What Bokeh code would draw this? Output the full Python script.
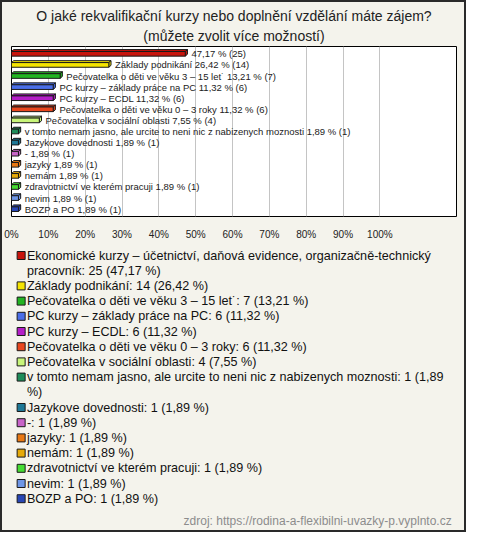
import textwrap
from bokeh.plotting import figure
from bokeh.layouts import column
from bokeh.models import Range1d, FixedTicker, Title, ColumnDataSource
from bokeh.embed import file_html
from bokeh.resources import INLINE
from bokeh.core.properties import value

# ---------------- data ----------------
names = [
    "Ekonomické kurzy – účetnictví, daňová evidence, organizačně-technický pracovník",
    "Základy podnikání",
    "Pečovatelka o děti ve věku 3 – 15 let˙",
    "PC kurzy – základy práce na PC",
    "PC kurzy – ECDL",
    "Pečovatelka o děti ve věku 0 – 3 roky",
    "Pečovatelka v sociální oblasti",
    "v tomto nemam jasno, ale urcite to neni nic z nabizenych moznosti",
    "Jazykove dovednosti",
    "-",
    "jazyky",
    "nemám",
    "zdravotnictví ve kterém pracuji",
    "nevim",
    "BOZP a PO",
]
counts = [25, 14, 7, 6, 6, 6, 4, 1, 1, 1, 1, 1, 1, 1, 1]
percents = [47.17, 26.42, 13.21, 11.32, 11.32, 11.32, 7.55,
            1.89, 1.89, 1.89, 1.89, 1.89, 1.89, 1.89, 1.89]
show_name_on_bar = [False] + [True] * 14
colors = ["#c8140c", "#f5e400", "#22b422", "#4a6ee8", "#b41ec8", "#e8461e",
          "#c8f57a", "#1e8c5a", "#1e7896", "#c864c8", "#e87814", "#e6aa0a",
          "#46dc32", "#6e96e6", "#2846b4"]
x_ticks = [0, 10, 20, 30, 40, 50, 60, 70, 80, 90, 100]
x_tick_labels = ["0%", "10%", "20%", "30%", "40%", "50%", "60%", "70%", "80%", "90%", "100%"]
title_line1 = "O jaké rekvalifikační kurzy nebo doplnění vzdělání máte zájem?"
title_line2 = "(můžete zvolit více možností)"
source_text = "zdroj: https://rodina-a-flexibilni-uvazky-p.vyplnto.cz"

# ---------------- helpers ----------------
def fmt(v):
    return f"{v:.2f}".replace(".", ",")

BG = "#f4f3ec"
FONT = "Liberation Sans"
n = len(names)
rows = list(range(n))

# ---------------- chart figure ----------------
W = 462
HA = 240
ML, MR = 9, 8
X_END = 120.8
frame_w = W - ML - MR
frame_h = 176
dx = 2.2 * X_END / frame_w        # 3D depth (x), data units
dy = 2.0 * 15.3 / frame_h         # 3D depth (y), row units
hh = 0.21                          # half height of bar front face

bar_labels = [((nm + " ") if show else "") + f"{fmt(pc)} % ({c})"
              for nm, pc, c, show in zip(names, percents, counts, show_name_on_bar)]

top_xs, top_ys, side_xs, side_ys = [], [], [], []
for i, pc in zip(rows, percents):
    top_xs.append([0, pc, pc + dx, dx])
    top_ys.append([i - hh, i - hh, i - hh - dy, i - hh - dy])
    side_xs.append([pc, pc, pc + dx, pc + dx])
    side_ys.append([i - hh, i + hh, i + hh - dy, i - hh - dy])

src = ColumnDataSource(dict(
    y=rows, right=percents, color=colors, label=bar_labels,
    top=[i - hh for i in rows], bottom=[i + hh for i in rows],
    tx=[pc + dx for pc in percents],
    top_xs=top_xs, top_ys=top_ys, side_xs=side_xs, side_ys=side_ys,
))

pa = figure(width=W, height=HA, x_range=Range1d(0, X_END), y_range=Range1d(14.66, -0.66),
            output_backend="svg", toolbar_location=None, y_axis_location=None,
            min_border_left=ML, min_border_right=MR, min_border_top=44, min_border_bottom=20,
            background_fill_color="white", border_fill_color=BG,
            outline_line_color="black", outline_line_width=1, title=None)

pa.xgrid.ticker = FixedTicker(ticks=x_ticks)
pa.xgrid.grid_line_color = "#c4c4c4"
pa.ygrid.visible = False

ax = pa.xaxis[0]
ax.ticker = FixedTicker(ticks=x_ticks)
ax.major_label_overrides = {t: l for t, l in zip(x_ticks, x_tick_labels)}
ax.axis_line_color = None
ax.major_tick_line_color = None
ax.minor_tick_line_color = None
ax.major_label_text_font = FONT
ax.major_label_text_font_size = "10px"
ax.major_label_text_color = "#222222"
ax.major_label_standoff = 6

pa.patches("top_xs", "top_ys", source=src, fill_color="color", line_color="#1a1a1a", line_width=1)
pa.patches("side_xs", "side_ys", source=src, fill_color="color", line_color="#1a1a1a", line_width=1)
pa.quad(left=0, right="right", top="top", bottom="bottom", source=src,
        fill_color="color", line_color="#1a1a1a", line_width=1)
pa.text(x="tx", y="y", text="label", source=src, x_offset=4,
        text_baseline="middle", text_align="left",
        text_font=value(FONT), text_font_size="9.5px", text_color="#222222")

pa.add_layout(Title(text=title_line2, align="center", text_font=FONT,
                    text_font_size="14px", text_font_style="normal", text_color="#222222",
                    standoff=5), "above")
pa.add_layout(Title(text=title_line1, align="center", text_font=FONT,
                    text_font_size="14px", text_font_style="normal", text_color="#222222",
                    standoff=0), "above")

# ---------------- legend figure ----------------
HB = 288
PITCH = 15.2
FIRST = 13
legend_labels = [f"{nm}: {c} ({fmt(pc)} %)" for nm, pc, c in zip(names, percents, counts)]

sq_y, sq_color, line_txt, line_y = [], [], [], []
k = 0
for lab, col in zip(legend_labels, colors):
    parts = textwrap.wrap(lab, width=74, break_on_hyphens=False)
    sq_y.append(FIRST + k * PITCH)
    sq_color.append(col)
    for part in parts:
        line_txt.append(part)
        line_y.append(FIRST + k * PITCH)
        k += 1

pb = figure(width=W, height=HB, x_range=Range1d(0, W), y_range=Range1d(HB, 0),
            output_backend="svg", toolbar_location=None,
            x_axis_location=None, y_axis_location=None,
            min_border=0, background_fill_color=BG, border_fill_color=BG,
            outline_line_color=None, title=None)
pb.grid.visible = False

pb.scatter(x=[10] * len(sq_y), y=sq_y, marker="square", size=8,
           fill_color=sq_color, line_color="#1a1a1a", line_width=1)
pb.text(x=[16] * len(line_txt), y=line_y, text=line_txt,
        text_baseline="middle", text_align="left",
        text_font=value(FONT), text_font_size="12.6px", text_color="#111111")
pb.text(x=[W - 5], y=[HB - 10], text=[source_text],
        text_baseline="middle", text_align="right",
        text_font=value(FONT), text_font_size="12px", text_color="#8c8c8c")

layout = column(pa, pb, spacing=0,
                styles={"border": "2px solid #2a2a2a", "background-color": BG})

open("out.html", "w").write(file_html(layout, INLINE))
